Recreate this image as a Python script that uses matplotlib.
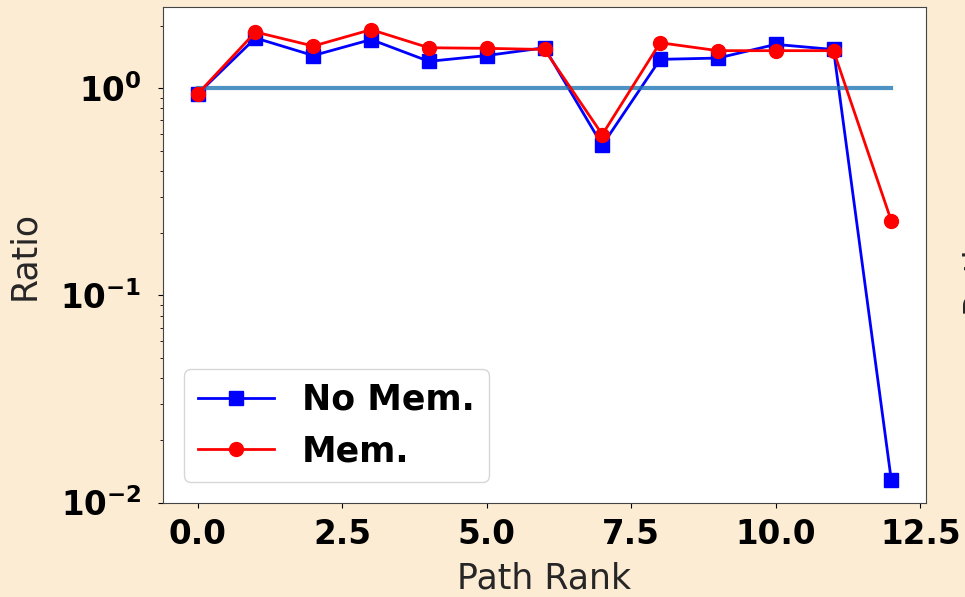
import matplotlib
matplotlib.use("Agg")
import matplotlib.pyplot as plt
import numpy as np

path_rank = list(range(13))
no_mem = [0.94, 1.75, 1.44, 1.72, 1.35, 1.44, 1.57, 0.531, 1.38, 1.40, 1.63, 1.54, 0.0128]
mem = [0.94, 1.87, 1.60, 1.92, 1.57, 1.56, 1.54, 0.598, 1.66, 1.52, 1.52, 1.52, 0.229]
baseline = [1.0] * 13
xticks = [0.0, 2.5, 5.0, 7.5, 10.0, 12.5]

bg = "#fcecd4"
fig = plt.figure(figsize=(9.65, 5.97), dpi=100, facecolor=bg)
ax = fig.add_axes([163/965, 1-503/597, (926-163)/965, (503-7)/597])
ax.set_facecolor("white")

ax.plot(path_rank, no_mem, color="blue", marker="s", markersize=10, lw=2, label="No Mem.", zorder=2)
ax.plot(path_rank, baseline, color="#1f77b4", alpha=0.8, lw=3, zorder=2.5)
ax.plot(path_rank, mem, color="red", marker="o", markersize=10, lw=2, label="Mem.", zorder=3)

ax.set_yscale("log")
ax.set_ylim(0.00995, 2.47)
ax.set_xlim(-0.6, 12.6)
ax.set_xticks(xticks)
ax.set_xticklabels([f"{t:.1f}" for t in xticks])

ax.tick_params(axis="x", which="major", labelsize=23.5, pad=7)
ax.tick_params(axis="y", which="major", labelsize=23.5, pad=12)
for lab in ax.get_xticklabels() + ax.get_yticklabels():
    lab.set_fontweight("bold")

ax.set_xlabel("Path Rank", fontsize=25, color="#262626", labelpad=8)
ax.set_ylabel("Ratio", fontsize=25, color="#262626", labelpad=14)
for s in ax.spines.values():
    s.set_color("#444444")

leg = ax.legend(loc="lower left", prop={"weight": "bold", "size": 25}, handlelength=2.2,
                borderaxespad=0.6, framealpha=0.8)

fig.text(959/965, 1-268/597, "Ratio", rotation=90, fontsize=25, color="#262626",
         ha="left", va="center")

fig.savefig("out.png", dpi=100, facecolor=bg)
